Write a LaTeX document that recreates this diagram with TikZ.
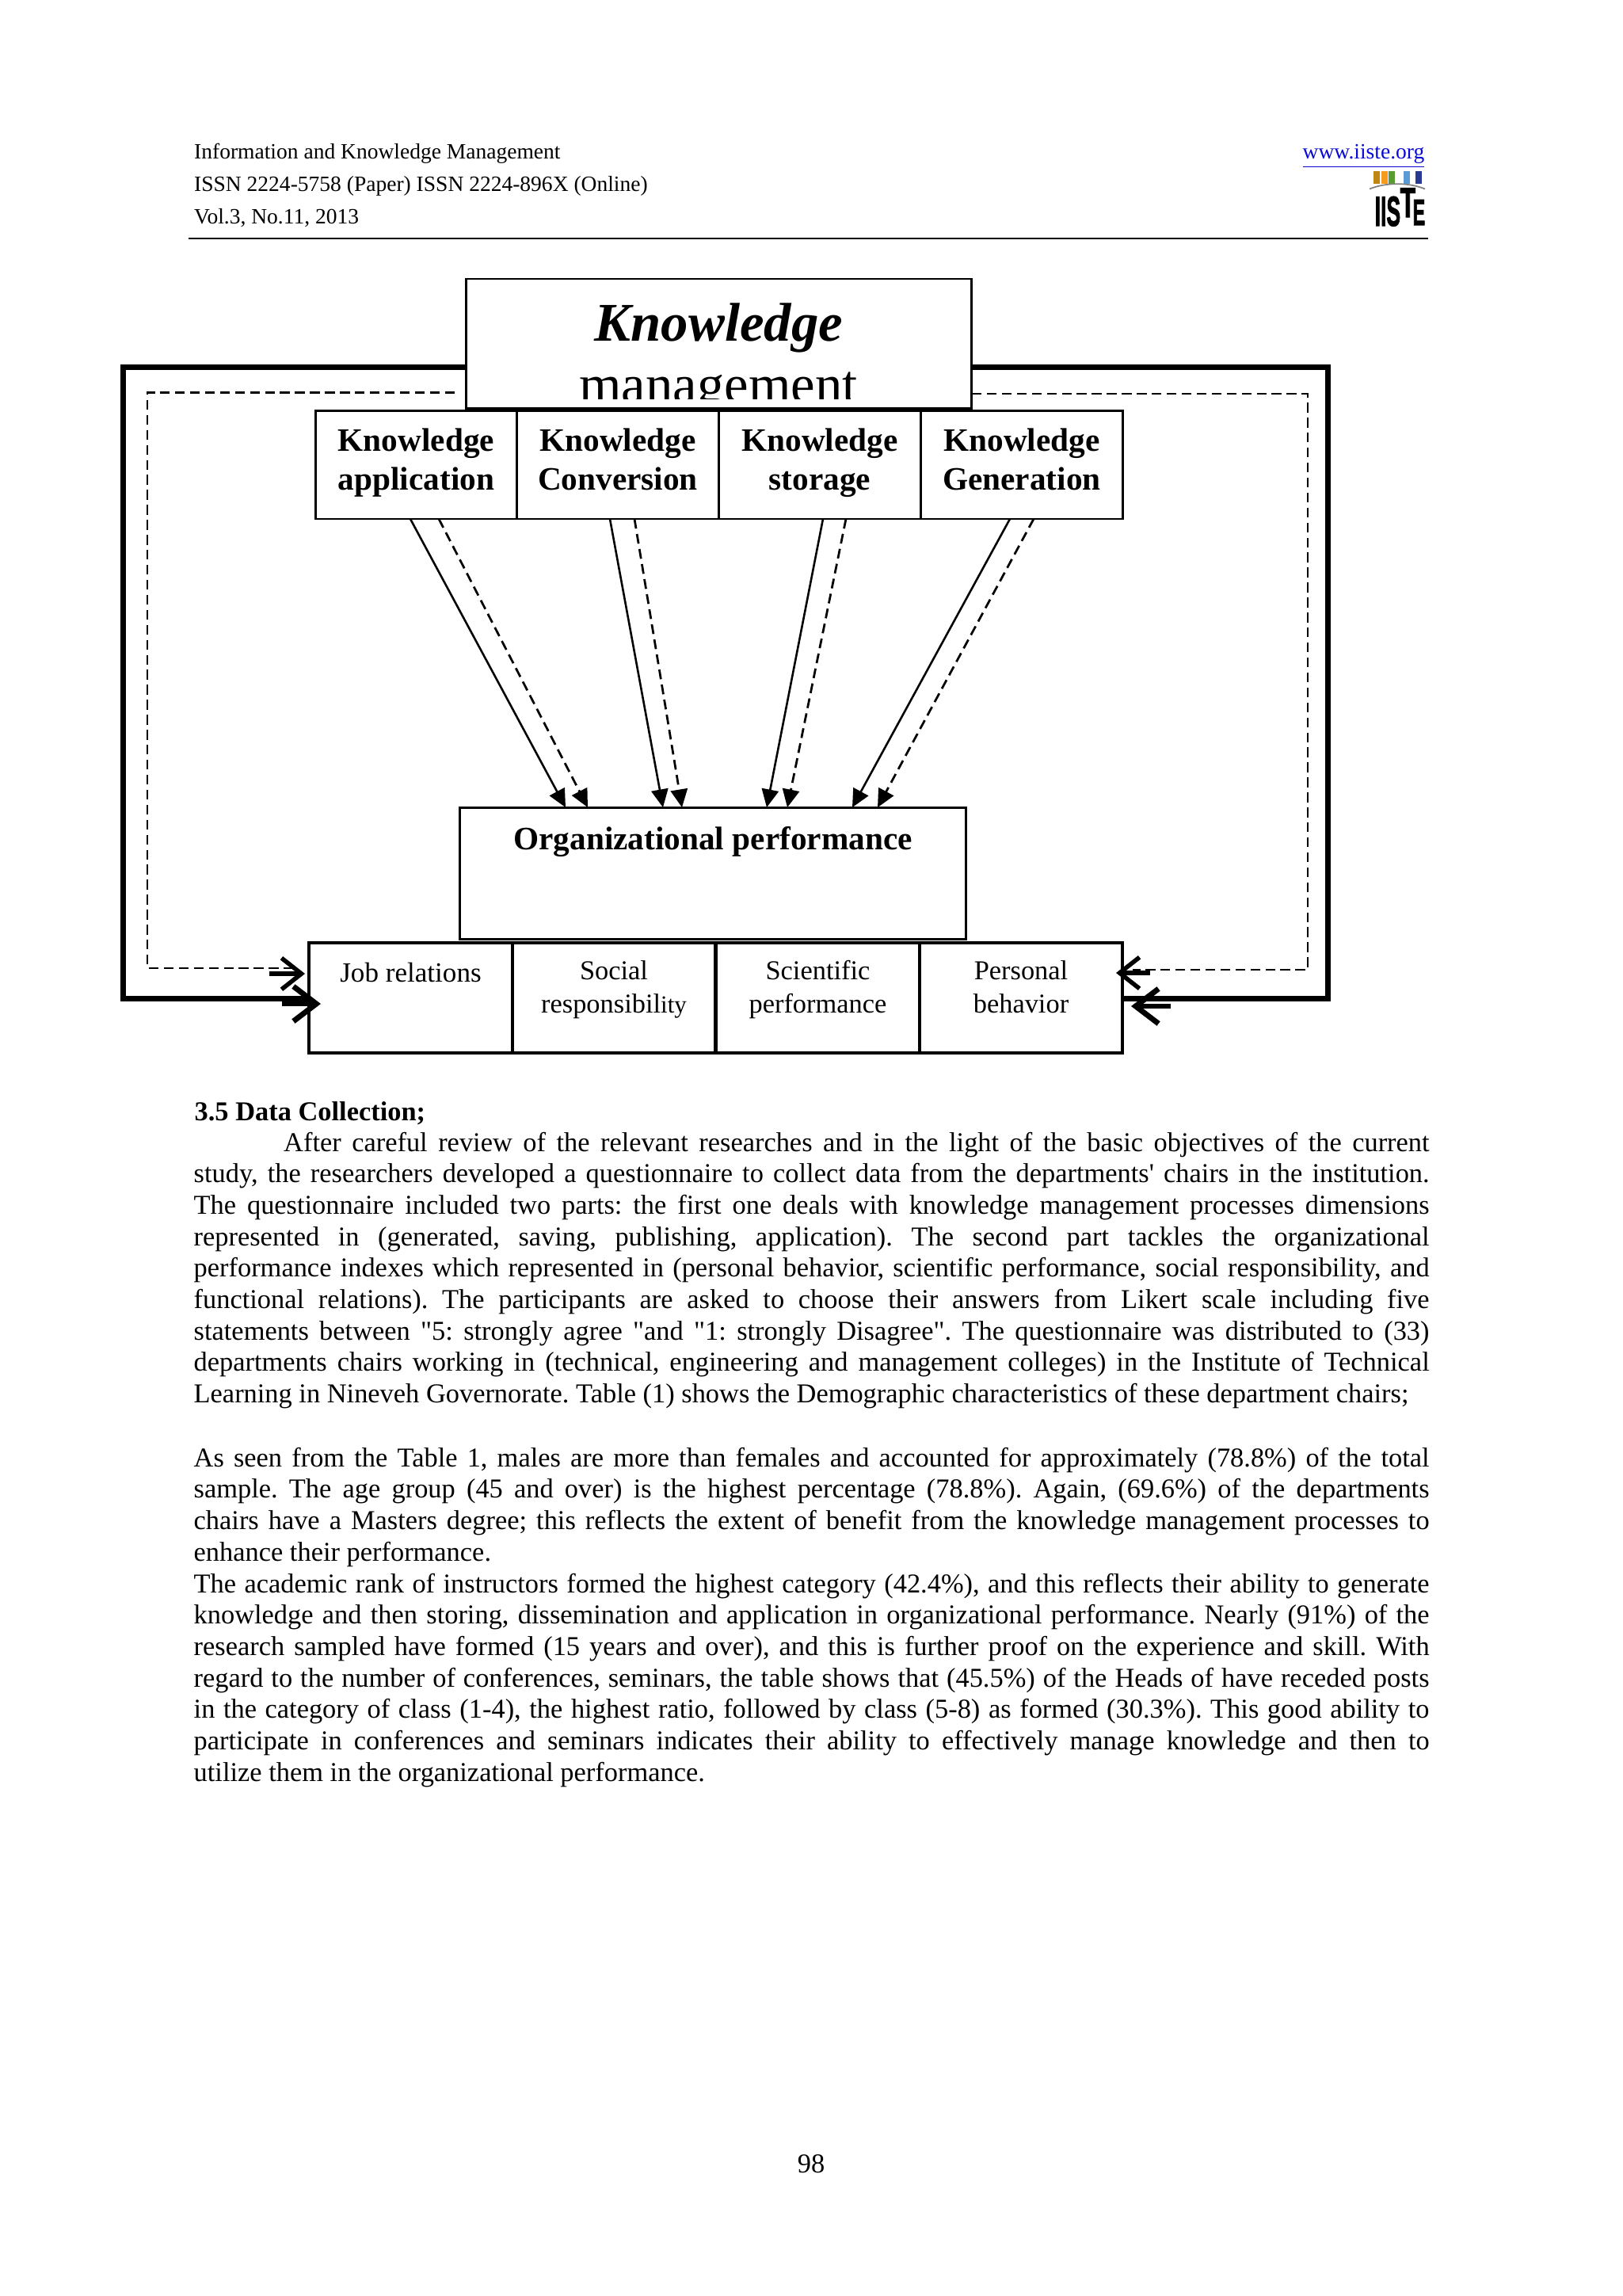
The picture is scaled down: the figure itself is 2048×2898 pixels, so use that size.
\documentclass[tikz,border=0pt]{standalone}
\usepackage{fontspec}
\setmainfont{Liberation Serif}[Ligatures=TeXOff]
\newfontfamily\logofont{Liberation Sans}[BoldFeatures={FakeBold=2.5}]
\usepackage{xcolor}
\usepackage{tikz}
\usetikzlibrary{arrows.meta}
\definecolor{linkblue}{RGB}{10,10,215}
\definecolor{logogold}{RGB}{190,135,20}
\definecolor{logoorange}{RGB}{247,155,30}
\definecolor{logogreen}{RGB}{90,155,50}
\definecolor{logoblue}{RGB}{90,155,215}
\definecolor{logonavy}{RGB}{43,57,144}
\frenchspacing
\begin{document}
\begin{tikzpicture}[
      x=0.29066pt, y=-0.29066pt,
      >={Triangle[length=6.6pt,width=6.2pt]},
      kproc/.style={rectangle, draw, line width=0.85pt, inner sep=0pt, outer sep=0pt, minimum width=73.9pt, align=center, font=\fontsize{12}{14.2}\bfseries\selectfont, text height=29.2pt, text depth=10.6pt},
      orgind/.style={rectangle, draw, line width=1.15pt, inner sep=0pt, outer sep=0pt, minimum width=74.6pt, align=center, font=\fontsize{10}{12.2}\selectfont, text height=25.6pt, text depth=14.8pt},
      bigbox/.style={rectangle, draw, line width=0.85pt, inner sep=0pt, outer sep=0pt, minimum width=185.7pt, align=center},
      solidarr/.style={->, line width=0.75pt},
      dasharr/.style={->, line width=0.8pt, dash pattern=on 3.6pt off 2pt},
      feedthick/.style={line width=2pt, miter limit=4},
      feeddash/.style={line width=0.8pt, dash pattern=on 3.6pt off 1.9pt},
      handarr/.style={-{Straight Barb[length=7.3pt,width=11.5pt]}, line width=1.6pt},
      handarrb/.style={-{Straight Barb[length=8.4pt,width=12.8pt]}, line width=2pt},
      headtxt/.style={anchor=base west, inner sep=0pt, font=\fontsize{8}{9}\selectfont},
      bodytxt/.style={anchor=base west, inner sep=0pt, text width=453.4pt, align=justify, font=\fontsize{10}{11.53}\selectfont},
      logotxt/.style={anchor=base west, inner sep=0pt, font=\logofont\bfseries\fontsize{15.4}{16}\selectfont}
  ]
      \useasboundingbox (0,0) rectangle (2048,2898);

      % Page header
      \node[headtxt] (jname) at (244.5,200) {Information and Knowledge Management};
      \node[headtxt] (jissn) at (244.5,241) {ISSN 2224-5758 (Paper) ISSN 2224-896X (Online)};
      \node[headtxt] (jvol) at (244.5,282) {Vol.3, No.11, 2013};
      \node[headtxt, text=linkblue, anchor=base east] (jurl) at (1799,200) {\underline{www.iiste.org}};
      \coordinate (rulea) at (238,301);
      \coordinate (ruleb) at (1803,301);
      \draw[line width=0.75pt] (rulea) -- (ruleb);

      % Logo
      \fill[logogold] (1734.3,216) rectangle (1742.3,231.7);
      \fill[logoorange] (1744.3,216) rectangle (1752.3,231.7);
      \fill[logogreen] (1753.3,216) rectangle (1760.7,231.7);
      \fill[logoblue] (1772.3,216) rectangle (1780.3,231.7);
      \fill[logonavy] (1787.3,216) rectangle (1795,231.7);
      \draw[gray, line width=0.5pt] (1729,238.5) .. controls (1750,230) and (1778,230) .. (1799,238.5);
      \node[logotxt] (logoa) at (1735,285) {\scalebox{.5}[1]{IIS}};
      \node[logotxt] (logob) at (1767,274) {\scalebox{.6}[1]{T}};
      \node[logotxt] (logoc) at (1783,284) {\scalebox{.44}[.87]{E}};

      % Feedback frames
      \coordinate (fta) at (155.5,463.5);
      \coordinate (ftb) at (155.5,1260.5);
      \coordinate (ftc) at (1676.5,463.5);
      \coordinate (ftd) at (1676.5,1260.5);
      \coordinate (fda) at (186,495.5);
      \coordinate (fdb) at (186,1222);
      \coordinate (fdc) at (377,1222);
      \coordinate (fdd) at (574,495.5);
      \coordinate (fde) at (1651,497);
      \coordinate (fdf) at (1651,1224);
      \coordinate (fdg) at (1430,1224);
      \coordinate (fdh) at (1227,497);

      % Top boxes
      \node[bigbox, font=\fontsize{20}{22}\bfseries\itshape\selectfont, text height=22.7pt, text depth=24.7pt] (kmbox) at (907.5,433.5) {Knowledge};
      \begin{scope}
          \clip (kmbox.north west) rectangle (kmbox.east |- 0,503);
          \node[anchor=base, inner sep=0pt, font=\fontsize{20}{22}\selectfont] (kmsub) at (907,508) {management};
      \end{scope}
      \node[kproc] (kapp) at (525.5,586.5) {Knowledge\\application};
      \node[kproc] (kconv) at (780,586.5) {Knowledge\\Conversion};
      \node[kproc] (kstor) at (1035,586.5) {Knowledge\\storage};
      \node[kproc] (kgen) at (1290,586.5) {Knowledge\\Generation};

      % Performance boxes
      \node[bigbox, font=\fontsize{12}{14}\bfseries\selectfont, text height=15.4pt, text depth=33.1pt] (orgperf) at (900,1102.5) {Organizational performance};
      \node[orgind, font=\fontsize{10.2}{12.2}\selectfont, text height=14.3pt, text depth=26.1pt] (jobrel) at (518.5,1259.5) {Job relations};
      \node[orgind] (socres) at (775,1259.5) {Social\\responsibil{\fontsize{9}{11}\selectfont ity}};
      \node[orgind] (sciper) at (1032.5,1259.5) {Scientific\\performance};
      \node[orgind] (persbeh) at (1289,1259.5) {Personal\\behavior};

      % Frames
      \draw[feedthick] (kmbox.west |- fta) -- (fta) -- (ftb) -- (jobrel.west |- ftb);
      \draw[feedthick] (kmbox.east |- ftc) -- (ftc) -- (ftd) -- (persbeh.east |- ftd);
      \draw[feeddash] (fdd) -- (fda) -- (fdb) -- (fdc);
      \draw[feeddash] (fdh) -- (fde) -- (fdf) -- (fdg);

      % Knowledge to performance
      \draw[solidarr] (kapp.south -| 518,0) -- (orgperf.north -| 714,0);
      \draw[dasharr] (kapp.south -| 554,0) -- (orgperf.north -| 742,0);
      \draw[solidarr] (kconv.south -| 770,0) -- (orgperf.north -| 837,0);
      \draw[dasharr] (kconv.south -| 801,0) -- (orgperf.north -| 861,0);
      \draw[solidarr] (kstor.south -| 1039,0) -- (orgperf.north -| 968,0);
      \draw[dasharr] (kstor.south -| 1068,0) -- (orgperf.north -| 994,0);
      \draw[solidarr] (kgen.south -| 1275,0) -- (orgperf.north -| 1076,0);
      \draw[dasharr] (kgen.south -| 1305,0) -- (orgperf.north -| 1108,0);

      % Short arrows on the indicator boxes
      \coordinate (haa) at (340,1229);
      \coordinate (hab) at (385,1229);
      \coordinate (hba) at (356,1267);
      \coordinate (hbb) at (405,1267);
      \coordinate (hca) at (1452,1228);
      \coordinate (hcb) at (1409,1228);
      \coordinate (hda) at (1478,1270);
      \coordinate (hdb) at (1428,1270);
      \draw[handarr] (haa) -- (hab);
      \draw[handarrb] (hba) -- (hbb);
      \draw[handarr] (hca) -- (hcb);
      \draw[handarrb] (hda) -- (hdb);

      % Body text
      \node[anchor=base west, inner sep=0pt, font=\fontsize{10}{11.4}\bfseries\selectfont] (sechead) at (245,1414) {3.5 Data Collection;};
      \node[bodytxt] (parone) at (244,1453) {\hspace*{33pt}After careful review of the relevant researches and in the light of the basic objectives of the current\linebreak
study, the researchers developed a questionnaire to collect data from the departments' chairs in the institution.\linebreak
The questionnaire included two parts: the first one deals with knowledge management processes dimensions\linebreak
represented in (generated, saving, publishing, application). The second part tackles the organizational\linebreak
performance indexes which represented in (personal behavior, scientific performance, social responsibility, and\linebreak
functional relations). The participants are asked to choose their answers from Likert scale including five\linebreak
statements between "5: strongly agree "and "1: strongly Disagree". The questionnaire was distributed to (33)\linebreak
departments chairs working in (technical, engineering and management colleges) in the Institute of Technical\linebreak
Learning in Nineveh Governorate. Table (1) shows the Demographic characteristics of these department chairs;};
      \node[bodytxt] (partwo) at (244,1851) {As seen from the Table 1, males are more than females and accounted for approximately (78.8\%) of the total\linebreak
sample. The age group (45 and over) is the highest percentage (78.8\%). Again, (69.6\%) of the departments\linebreak
chairs have a Masters degree; this reflects the extent of benefit from the knowledge management processes to\linebreak
enhance their performance.};
      \node[bodytxt] (parthree) at (244,2010) {The academic rank of instructors formed the highest category (42.4\%), and this reflects their ability to generate\linebreak
knowledge and then storing, dissemination and application in organizational performance. Nearly (91\%) of the\linebreak
research sampled have formed (15 years and over), and this is further proof on the experience and skill. With\linebreak
regard to the number of conferences, seminars, the table shows that (45.5\%) of the Heads of have receded posts\linebreak
in the category of class (1-4), the highest ratio, followed by class (5-8) as formed (30.3\%). This good ability to\linebreak
participate in conferences and seminars indicates their ability to effectively manage knowledge and then to\linebreak
utilize them in the organizational performance.};
      \node[anchor=base, inner sep=0pt, font=\fontsize{10}{12}\selectfont] (pageno) at (1024,2742) {98};
  \end{tikzpicture}
\end{document}
